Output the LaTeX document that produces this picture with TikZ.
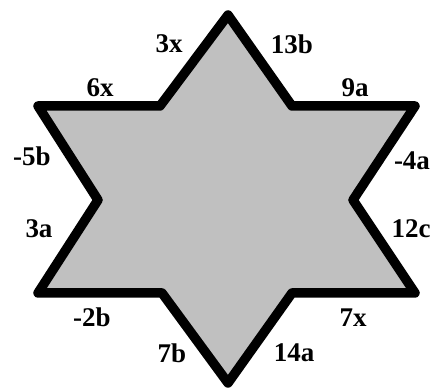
\documentclass[tikz,border=0pt]{standalone}
\usepackage{fontspec}
\setmainfont{Liberation Serif}[BoldFont={Liberation Serif Bold}]
\usepackage{tikz}
\usetikzlibrary{positioning}
\definecolor{stargray}{HTML}{C0C0C0}

\begin{document}
\begin{tikzpicture}[
  x=1pt, y=-1pt,
  font=\fontsize{27}{27}\selectfont\bfseries,
  star/.style={draw=black, fill=stargray, line width=9.5pt, line join=round},
  lbl/.style={inner sep=0pt, text=black},
  ]
  \useasboundingbox (0,0) rectangle (440,390);
  % corners of the star, clockwise from the top
  \coordinate (top) at (228,15);
  \coordinate (urin) at (292,106);
  \coordinate (ruo) at (415,106);
  \coordinate (rin) at (353,200);
  \coordinate (rlo) at (415,293);
  \coordinate (lrin) at (292,293);
  \coordinate (bot) at (228,383);
  \coordinate (llin) at (162,293);
  \coordinate (llo) at (38,293);
  \coordinate (lin) at (98,200);
  \coordinate (luo) at (38,106);
  \coordinate (ulin) at (160,106);
  \draw[star] (top) -- (urin) -- (ruo) -- (rin) -- (rlo) -- (lrin) -- (bot)
    -- (llin) -- (llo) -- (lin) -- (luo) -- (ulin) -- cycle;
  % side labels
  \node[lbl] (l3x) at (169,44) {3x};
  \node[lbl] (l13b) at (292,44) {13b};
  \node[lbl] (l6x) at (100,88) {6x};
  \node[lbl] (l9a) at (355,88) {9a};
  \node[lbl] (lm5b) at (32,156) {-5b};
  \node[lbl] (lm4a) at (412,161) {-4a};
  \node[lbl] (l3a) at (39,229) {3a};
  \node[lbl] (l12c) at (411,229) {12c};
  \node[lbl] (lm2b) at (92,317) {-2b};
  \node[lbl] (l7x) at (353,318) {7x};
  \node[lbl] (l7b) at (172,353) {7b};
  \node[lbl] (l14a) at (294,353) {14a};
\end{tikzpicture}
\end{document}
